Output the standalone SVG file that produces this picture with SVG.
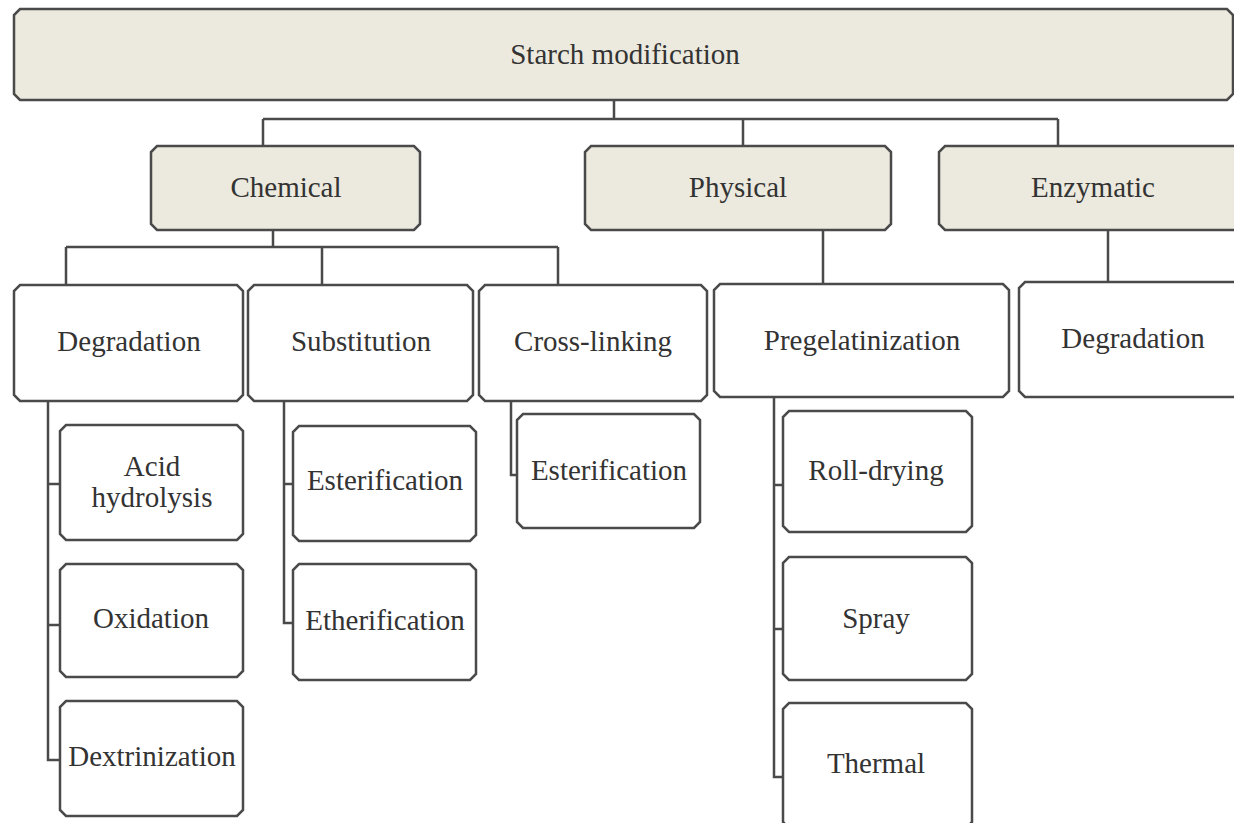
<svg xmlns="http://www.w3.org/2000/svg" width="1234" height="823" viewBox="0 0 1234 823">
<style>
.box{fill:#ffffff;stroke:#4a4a4a;stroke-width:2.5}
.shaded{fill:#ece9de}
.conn{fill:none;stroke:#4a4a4a;stroke-width:2.5}
text{font-family:"Liberation Serif","DejaVu Serif",serif;font-size:29px;fill:#333333;text-anchor:middle}
</style>
<rect width="1234" height="823" fill="#ffffff"/>
<g id="connectors" class="conn">
<path d="M614,100 V119 M263,119 H1058 M263,119 V146 M743,119 V146 M1058,119 V146"/>
<path d="M273,230 V247 M66,247 H558 M66,247 V285 M322,247 V285 M558,247 V285"/>
<path d="M823,230 V284 M1108,230 V282"/>
<path d="M48,401 V760 H60 M48,484 H60 M48,625 H60"/>
<path d="M284,401 V623 H293 M284,484 H293"/>
<path d="M511,401 V475 H517"/>
<path d="M774,397 V777 H783 M774,485 H783 M774,629 H783"/>
</g>
<g id="starch-modification">
<path class="box shaded" d="M20,9 H1227 L1233,15 V94 L1227,100 H20 L14,94 V15 Z"/>
<text x="625" y="64">Starch modification</text>
</g>
<g id="chemical">
<path class="box shaded" d="M157,146 H414 L420,152 V224 L414,230 H157 L151,224 V152 Z"/>
<text x="286" y="197">Chemical</text>
</g>
<g id="physical">
<path class="box shaded" d="M591,146 H885 L891,152 V224 L885,230 H591 L585,224 V152 Z"/>
<text x="738" y="197">Physical</text>
</g>
<g id="enzymatic">
<path class="box shaded" d="M945,146 H1240 L1246,152 V224 L1240,230 H945 L939,224 V152 Z"/>
<text x="1093" y="197">Enzymatic</text>
</g>
<g id="degradation-chem">
<path class="box" d="M20,285 H237 L243,291 V395 L237,401 H20 L14,395 V291 Z"/>
<text x="129" y="351">Degradation</text>
</g>
<g id="substitution">
<path class="box" d="M254,285 H467 L473,291 V395 L467,401 H254 L248,395 V291 Z"/>
<text x="361" y="351">Substitution</text>
</g>
<g id="cross-linking">
<path class="box" d="M485,285 H701 L707,291 V395 L701,401 H485 L479,395 V291 Z"/>
<text x="593" y="351">Cross-linking</text>
</g>
<g id="pregelatinization">
<path class="box" d="M720,284 H1003 L1009,290 V391 L1003,397 H720 L714,391 V290 Z"/>
<text x="862" y="350">Pregelatinization</text>
</g>
<g id="degradation-enz">
<path class="box" d="M1025,282 H1240 L1246,288 V391 L1240,397 H1025 L1019,391 V288 Z"/>
<text x="1133" y="348">Degradation</text>
</g>
<g id="acid-hydrolysis">
<path class="box" d="M66,425 H237 L243,431 V534 L237,540 H66 L60,534 V431 Z"/>
<text x="152" y="476">Acid</text>
<text x="152" y="507">hydrolysis</text>
</g>
<g id="oxidation">
<path class="box" d="M66,564 H237 L243,570 V671 L237,677 H66 L60,671 V570 Z"/>
<text x="151" y="628">Oxidation</text>
</g>
<g id="dextrinization">
<path class="box" d="M66,701 H237 L243,707 V810 L237,816 H66 L60,810 V707 Z"/>
<text x="152" y="766">Dextrinization</text>
</g>
<g id="esterification-sub">
<path class="box" d="M299,426 H470 L476,432 V535 L470,541 H299 L293,535 V432 Z"/>
<text x="385" y="490">Esterification</text>
</g>
<g id="etherification">
<path class="box" d="M299,564 H470 L476,570 V674 L470,680 H299 L293,674 V570 Z"/>
<text x="385" y="630">Etherification</text>
</g>
<g id="esterification-cross">
<path class="box" d="M523,414 H694 L700,420 V522 L694,528 H523 L517,522 V420 Z"/>
<text x="609" y="480">Esterification</text>
</g>
<g id="roll-drying">
<path class="box" d="M789,411 H966 L972,417 V526 L966,532 H789 L783,526 V417 Z"/>
<text x="876" y="480">Roll-drying</text>
</g>
<g id="spray">
<path class="box" d="M789,557 H966 L972,563 V674 L966,680 H789 L783,674 V563 Z"/>
<text x="876" y="628">Spray</text>
</g>
<g id="thermal">
<path class="box" d="M789,703 H966 L972,709 V822 L966,828 H789 L783,822 V709 Z"/>
<text x="876" y="773">Thermal</text>
</g>
</svg>
